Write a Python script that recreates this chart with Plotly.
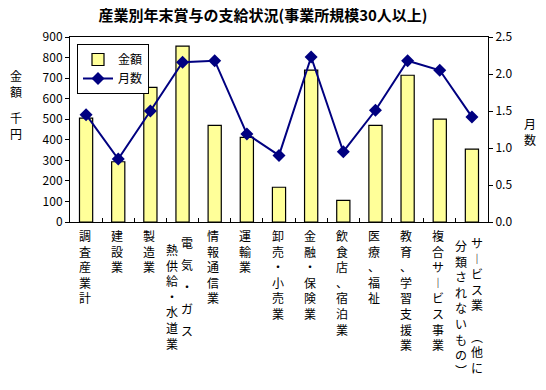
import plotly.graph_objects as go

categories = ["調査産業計", "建設業", "製造業", "電気・ガス熱供給・水道業", "情報通信業", "運輸業",
              "卸売・小売業", "金融・保険業", "飲食店、宿泊業", "医療、福祉", "教育、学習支援業",
              "複合サービス事業", "サービス業（他に分類されないもの）"]
# tick label columns (vertical text, first column is rightmost)
label_columns = [["調査産業計"], ["建設業"], ["製造業"], ["電気・ガス", "熱供給・水道業"], ["情報通信業"],
                 ["運輸業"], ["卸売・小売業"], ["金融・保険業"], ["飲食店、宿泊業"], ["医療、福祉"],
                 ["教育、学習支援業"], ["複合サ︱ビス事業"], ["サ︱ビス業 ︵他に", "分類されないもの︶"]]
amount = [505, 293, 655, 856, 470, 412, 169, 739, 105, 470, 714, 500, 355]
months = [1.45, 0.85, 1.50, 2.16, 2.18, 1.19, 0.90, 2.23, 0.95, 1.51, 2.18, 2.05, 1.42]
left_ticks = list(range(0, 901, 100))
right_ticks = [0.0, 0.5, 1.0, 1.5, 2.0, 2.5]

FONT = "Noto Sans CJK JP, Noto Sans, sans-serif"
W, H = 546, 390

fig = go.Figure()
fig.add_trace(go.Bar(x=categories, y=amount, name="金額", width=0.41,
                     marker=dict(color="#FFFF99", line=dict(color="black", width=1.2)),
                     yaxis="y"))
fig.add_trace(go.Scatter(x=categories, y=months, name="月数", mode="lines+markers",
                         line=dict(color="#000080", width=2),
                         marker=dict(symbol="diamond", size=10, color="#000080"),
                         yaxis="y2"))

lab_font = dict(family=FONT, size=12, color="black")
annotations = []
for cat, cols in zip(categories, label_columns):
    if len(cols) == 1:
        annotations.append(dict(x=cat, xref="x", y=0, yref="paper", yanchor="top",
                                xanchor="center", xshift=-1.5, yshift=-3,
                                text="<br>".join(list(cols[0])), showarrow=False,
                                font=lab_font))
        continue
    right, left = cols
    # left column (second line of the label)
    annotations.append(dict(x=cat, xref="x", y=0, yref="paper", yanchor="top",
                            xanchor="center", xshift=-10.5, yshift=-13 - (4 if len(left) > len(right) else 0),
                            text="<br>".join(list(left)), showarrow=False, font=lab_font))
    if len(right) < len(left):
        # short column is spread over the length of the long one
        step = (len(left) - 1) * 15.6 / (len(right) - 1) - 1.5
        for k, ch in enumerate(right):
            annotations.append(dict(x=cat, xref="x", y=0, yref="paper", yanchor="top",
                                    xanchor="center", xshift=4.8, yshift=-(10 + k * step),
                                    text=ch, showarrow=False, font=lab_font))
    else:
        annotations.append(dict(x=cat, xref="x", y=0, yref="paper", yanchor="top",
                                xanchor="center", xshift=4.8, yshift=-10,
                                text="<br>".join(list(right)), showarrow=False, font=lab_font))

# axis titles as vertical text
for txt, ytop in [("金<br>額", 65), ("千<br>円", 107)]:
    annotations.append(dict(xref="paper", yref="paper", x=-54 / 418, y=(222 - ytop) / 185,
                            xanchor="center", yanchor="top", text=txt, showarrow=False,
                            font=lab_font))
annotations.append(dict(xref="paper", yref="paper", x=1 + 42 / 418, y=(222 - 113) / 185,
                        xanchor="center", yanchor="top", text="月<br>数", showarrow=False,
                        font=lab_font))

fig.update_layout(
    width=W, height=H,
    margin=dict(l=70, r=58, t=37, b=168),
    paper_bgcolor="white", plot_bgcolor="white",
    font=dict(family=FONT, size=12, color="black"),
    title=dict(text="<b>産業別年末賞与の支給状況(事業所規模30人以上)</b>",
               x=263 / W, xanchor="center", y=1 - 16 / H, yanchor="middle",
               font=dict(family=FONT, size=15, color="black")),
    xaxis=dict(type="category", range=[-0.5, 12.5], showticklabels=False,
               tickson="boundaries", ticks="inside", ticklen=4, tickcolor="black",
               showline=True, linecolor="black", linewidth=1, mirror=True,
               showgrid=False, zeroline=False),
    yaxis=dict(range=[0, 900], tickvals=left_ticks, ticks="outside", ticklen=4,
               tickcolor="black", showline=True, linecolor="black", linewidth=1,
               showgrid=False, zeroline=False, tickfont=dict(size=12)),
    yaxis2=dict(range=[0, 2.5], tickvals=right_ticks, tickformat=".1f", overlaying="y",
                side="right", ticks="outside", ticklen=4, tickcolor="black",
                showline=True, linecolor="black", linewidth=1, showgrid=False,
                zeroline=False, tickfont=dict(size=12)),
    legend=dict(x=7 / 418, y=(222 - 44) / 185, xanchor="left", yanchor="top",
                bgcolor="white", bordercolor="black", borderwidth=1,
                font=dict(family=FONT, size=12), tracegroupgap=0, itemwidth=30),
    annotations=annotations,
)

# remove the default page margin so the 546x390 figure fills the window exactly
fig.write_html("out.html", config={"displayModeBar": False},
               post_script="document.body.style.margin='0';")
